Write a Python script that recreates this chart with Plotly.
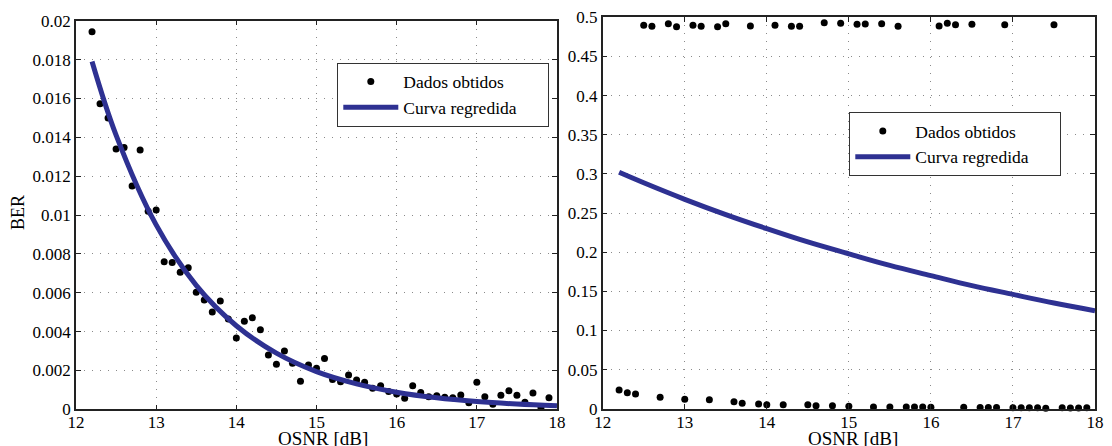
import plotly.graph_objects as go

# OSNR sweep (dB) and measured BER, left panel
osnr_a = [12.2, 12.3, 12.4, 12.5, 12.6, 12.7, 12.8, 12.9, 13.0, 13.1,
          13.2, 13.3, 13.4, 13.5, 13.6, 13.7, 13.8, 13.9, 14.0, 14.1,
          14.2, 14.3, 14.4, 14.5, 14.6, 14.7, 14.8, 14.9, 15.0, 15.1,
          15.2, 15.3, 15.4, 15.5, 15.6, 15.7, 15.8, 15.9, 16.0, 16.1,
          16.2, 16.3, 16.4, 16.5, 16.6, 16.7, 16.8, 16.9, 17.0, 17.1,
          17.2, 17.3, 17.4, 17.5, 17.6, 17.7, 17.8, 17.9]
ber_a = [0.01943, 0.01573, 0.01499, 0.01340, 0.01348, 0.01149, 0.01335, 0.01019, 0.01026, 0.00760,
         0.00755, 0.00705, 0.00729, 0.00602, 0.00563, 0.00501, 0.00557, 0.00465, 0.00367, 0.00453,
         0.00471, 0.00410, 0.00279, 0.00232, 0.00300, 0.00237, 0.00144, 0.00228, 0.00211, 0.00262,
         0.00154, 0.00142, 0.00177, 0.00151, 0.00139, 0.00108, 0.00121, 0.00091, 0.00079, 0.00057,
         0.00121, 0.00087, 0.00065, 0.00070, 0.00062, 0.00060, 0.00074, 0.00034, 0.00139, 0.00065,
         0.00026, 0.00072, 0.00096, 0.00072, 0.00036, 0.00084, 0.00008, 0.00060]

# regression curve samples, left panel
fit_x = [12.2, 12.5, 13.0, 13.5, 14.0, 14.5, 15.0, 15.5, 16.0, 16.5, 17.0, 17.5, 18.0]
fit_a = [0.01790, 0.01411, 0.00949, 0.00638, 0.00430, 0.00289, 0.00194, 0.00131, 0.00088,
         0.00059, 0.00040, 0.00027, 0.00018]

# right panel: measured BER (bimodal) and regression curve
osnr_b = [12.5, 12.6, 12.8, 12.9, 13.1, 13.2, 13.4, 13.5, 13.8, 14.1, 14.3, 14.4,
          14.7, 14.9, 15.1, 15.2, 15.4, 15.6, 16.1, 16.2, 16.3, 16.5, 16.9, 17.5,
          12.2, 12.3, 12.4, 12.7, 13.0, 13.3, 13.6, 13.7, 13.9, 14.0, 14.2, 14.5,
          14.6, 14.8, 15.0, 15.3, 15.5, 15.7, 15.8, 15.9, 16.0, 16.4, 16.6, 16.7,
          16.8, 17.0, 17.1, 17.2, 17.3, 17.4, 17.6, 17.7, 17.8, 17.9]
ber_b = [0.4898, 0.4885, 0.4918, 0.4880, 0.4900, 0.4885, 0.4880, 0.4918, 0.4890, 0.4898, 0.4885, 0.4885,
         0.4930, 0.4923, 0.4910, 0.4914, 0.4918, 0.4885, 0.4890, 0.4923, 0.4905, 0.4910, 0.4905, 0.4905,
         0.0239, 0.0204, 0.0188, 0.0146, 0.0120, 0.0115, 0.0089, 0.0069, 0.0060, 0.0051, 0.0051, 0.0051,
         0.0038, 0.0038, 0.0030, 0.0022, 0.0022, 0.0021, 0.0021, 0.0022, 0.0020, 0.0017, 0.0016, 0.0016,
         0.0015, 0.0013, 0.0013, 0.0013, 0.0012, 0.0006, 0.0011, 0.0010, 0.0010, 0.0012]
fit_b = [0.3020, 0.2886, 0.2675, 0.2480, 0.2300, 0.2130, 0.1978, 0.1830, 0.1700, 0.1572,
         0.1460, 0.1350, 0.1252]

x_ticks = [12, 13, 14, 15, 16, 17, 18]
y_ticks_a = [0, 0.002, 0.004, 0.006, 0.008, 0.01, 0.012, 0.014, 0.016, 0.018, 0.02]
y_text_a = ["0", "0.002", "0.004", "0.006", "0.008", "0.01", "0.012", "0.014", "0.016", "0.018", "0.02"]
y_ticks_b = [0, 0.05, 0.1, 0.15, 0.2, 0.25, 0.3, 0.35, 0.4, 0.45, 0.5]
y_text_b = ["0", "0.05", "0.1", "0.15", "0.2", "0.25", "0.3", "0.35", "0.4", "0.45", "0.5"]

LINE = "#2e3192"
FONT = "Liberation Serif, Times New Roman, serif"
W, H = 1112, 446
PAD = "\u00a0" * 6  # right-hand breathing room inside the legend box

fig = go.Figure()
fig.add_trace(go.Scatter(x=osnr_a, y=ber_a, mode="markers", name="Dados obtidos",
                         marker=dict(color="black", size=7), xaxis="x", yaxis="y",
                         legend="legend"))
fig.add_trace(go.Scatter(x=fit_x, y=fit_a, mode="lines", name="Curva regredida" + PAD,
                         line=dict(color=LINE, width=5, shape="spline"), xaxis="x", yaxis="y",
                         legend="legend"))
fig.add_trace(go.Scatter(x=osnr_b, y=ber_b, mode="markers", name="Dados obtidos",
                         marker=dict(color="black", size=7), xaxis="x2", yaxis="y2",
                         legend="legend2", cliponaxis=False))
fig.add_trace(go.Scatter(x=fit_x, y=fit_b, mode="lines", name="Curva regredida" + PAD,
                         line=dict(color=LINE, width=5, shape="spline"), xaxis="x2", yaxis="y2",
                         legend="legend2"))

axis_common = dict(showline=True, linecolor="#222222", linewidth=1.5, mirror="ticks",
                   ticks="inside", ticklen=5, tickcolor="#222222", automargin=False,
                   showgrid=True, gridcolor="#8a8a8a", griddash="1px,7px", gridwidth=1,
                   zeroline=False, tickfont=dict(family=FONT, size=17, color="black"))

legend_common = dict(xanchor="left", yanchor="top", bgcolor="white",
                     bordercolor="#333333", borderwidth=1,
                     font=dict(family=FONT, size=17.5), itemwidth=55, tracegroupgap=0)

fig.update_layout(
    template="none",
    width=W, height=H, autosize=False,
    margin=dict(l=0, r=0, t=0, b=0, pad=0),
    paper_bgcolor="white", plot_bgcolor="white",
    font=dict(family=FONT, size=17, color="black"),
    xaxis=dict(domain=[76 / W, 557 / W], range=[12, 18], tickvals=x_ticks,
               anchor="y", ticklabelstandoff=-3, **axis_common),
    yaxis=dict(domain=[(H - 409.3) / H, (H - 20.7) / H], range=[0, 0.02],
               tickvals=y_ticks_a, ticktext=y_text_a, anchor="x", **axis_common),
    xaxis2=dict(domain=[602.7 / W, 1095 / W], range=[12, 18], tickvals=x_ticks,
                anchor="y2", ticklabelstandoff=-3, **axis_common),
    yaxis2=dict(domain=[(H - 408.7) / H, (H - 17.3) / H], range=[0, 0.5],
                tickvals=y_ticks_b, ticktext=y_text_b, anchor="x2", **axis_common),
    legend=dict(x=337.3 / W, y=1 - 62.5 / H, **legend_common),
    legend2=dict(x=849.3 / W, y=1 - 112 / H, **legend_common),
    annotations=[
        dict(text="OSNR [dB]", x=323 / W, y=1 - 438.5 / H, xref="paper", yref="paper",
             xanchor="center", yanchor="middle", showarrow=False,
             font=dict(family=FONT, size=19)),
        dict(text="OSNR [dB]", x=853 / W, y=1 - 438.5 / H, xref="paper", yref="paper",
             xanchor="center", yanchor="middle", showarrow=False,
             font=dict(family=FONT, size=19)),
        dict(text="BER", x=18 / W, y=1 - 213 / H, xref="paper", yref="paper",
             xanchor="center", yanchor="middle", showarrow=False, textangle=-90,
             font=dict(family=FONT, size=18)),
    ],
)

fig.write_html("out.html")
